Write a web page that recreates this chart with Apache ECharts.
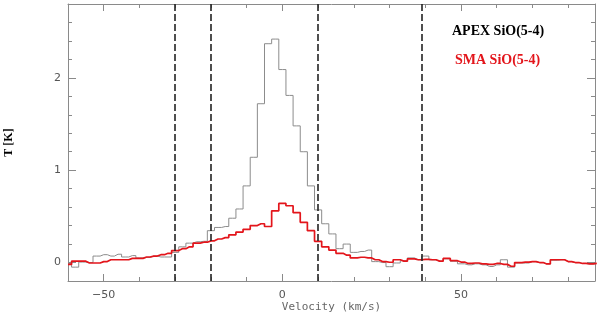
<!DOCTYPE html>
<html>
<head>
<meta charset="utf-8">
<script src="https://cdn.jsdelivr.net/npm/echarts@6/dist/echarts.min.js"></script>
<style>html,body{margin:0;padding:0;background:#fff}#c{width:600px;height:315px}</style>
</head>
<body>
<div id="c"></div>
<script>
var velocity = [-60,-58,-56,-54,-52,-50,-48,-46,-44,-42,-40,-38,-36,-34,-32,-30,-28,-26,-24,-22,-20,-18,-16,-14,-12,-10,-8,-6,-4,-2,
  0,2,4,6,8,10,12,14,16,18,20,22,24,26,28,30,32,34,36,38,40,42,44,46,48,50,52,54,56,58,60,62,64,66,68,70,72,74,76,78,80,82,84,86,88];
var apex = [-0.01,-0.05,0.005,0.0,0.07,0.085,0.07,0.09,0.06,0.075,0.05,0.055,0.07,0.06,0.06,0.11,0.17,0.21,0.225,0.23,0.345,0.38,0.39,0.48,0.58,0.83,1.14,1.72,2.37,2.42,
  2.09,1.81,1.48,1.20,0.83,0.57,0.42,0.31,0.15,0.20,0.11,0.12,0.135,0.01,0.0,-0.045,-0.005,0.02,0.05,0.03,0.07,0.03,0.014,0.04,0.014,-0.014,-0.025,-0.014,-0.025,-0.043,-0.025,0.03,-0.05,-0.005,-0.005,0.01,0.0,-0.015,0.025,0.03,0.01,0.0,-0.01,-0.015,-0.01];
var sma = [-0.02,0.015,0.015,-0.005,-0.005,0.01,0.03,0.03,0.03,0.045,0.045,0.06,0.07,0.085,0.10,0.13,0.15,0.17,0.21,0.22,0.235,0.255,0.27,0.30,0.33,0.36,0.40,0.42,0.39,0.56,
  0.64,0.615,0.54,0.435,0.345,0.23,0.17,0.135,0.10,0.08,0.05,0.057,0.05,0.03,0.01,0.003,0.03,0.015,0.04,0.03,0.035,0.03,0.015,0.045,0.02,0.005,-0.01,-0.005,-0.015,-0.02,-0.01,-0.02,-0.04,0.0,0.005,0.01,0.0,-0.015,0.03,0.03,0.01,0.0,-0.01,-0.015,-0.01];
var dashedVelocities = [-30, -20, 10, 39];
var xMajorTicks = [-50, 0, 50];
var yMajorTicks = [0, 1, 2];
var legendLabels = ['APEX SiO(5-4)', 'SMA SiO(5-4)'];
var xTitle = 'Velocity (km/s)';
var yTitle = 'T [K]';

var AX = '#8a8a8a';
function pairs(xs, ys){ return xs.map(function(x,i){ return [x, ys[i]]; }); }
function fmt(v){ return v < 0 ? '\u2212' + Math.abs(v) : String(v); }
var labelStyle = {color:'#555', fontFamily:'DejaVu Sans', fontSize:11};

var xBase = {type:'value', min:-60, max:87.5, splitLine:{show:false}};
var yBase = {type:'value', min:-0.2, max:2.8, splitLine:{show:false}};
function ext(a,b){ var o={}; for(var k in a)o[k]=a[k]; for(var k2 in b)o[k2]=b[k2]; return o; }

var chart = echarts.init(document.getElementById('c'), null, {renderer:'canvas'});
chart.setOption({
  animation:false,
  backgroundColor:'#fff',
  grid:{left:68, right:5, top:4, bottom:34, containLabel:false, outerBoundsMode:'none'},
  xAxis:[
    ext(xBase,{position:'bottom', interval:10, axisLine:{show:true,onZero:false,lineStyle:{color:AX,width:1}},
      axisTick:{inside:true,length:4,lineStyle:{color:AX}}, axisLabel:{show:false},
      name:xTitle, nameLocation:'middle', nameGap:21,
      nameTextStyle:{color:'#666', fontFamily:'DejaVu Sans Mono', fontSize:11}}),
    ext(xBase,{position:'top', interval:10, axisLine:{show:true,onZero:false,lineStyle:{color:AX,width:1}},
      axisTick:{inside:true,length:4,lineStyle:{color:AX}}, axisLabel:{show:false}}),
    ext(xBase,{position:'bottom', axisLine:{show:false,onZero:false},
      axisTick:{inside:true,length:7,customValues:xMajorTicks,lineStyle:{color:AX}},
      axisLabel:ext(labelStyle,{customValues:xMajorTicks, formatter:fmt, margin:9})}),
    ext(xBase,{position:'top', axisLine:{show:false,onZero:false},
      axisTick:{inside:true,length:7,customValues:xMajorTicks,lineStyle:{color:AX}}, axisLabel:{show:false}})
  ],
  yAxis:[
    ext(yBase,{position:'left', interval:0.2, axisLine:{show:true,onZero:false,lineStyle:{color:AX,width:1}},
      axisTick:{inside:true,length:4,lineStyle:{color:AX}}, axisLabel:{show:false},
      name:yTitle, nameLocation:'middle', nameGap:53, nameRotate:90,
      nameTextStyle:{color:'#000', fontFamily:'Liberation Serif', fontWeight:'bold', fontSize:12}}),
    ext(yBase,{position:'right', interval:0.2, axisLine:{show:true,onZero:false,lineStyle:{color:AX,width:1}},
      axisTick:{inside:true,length:4,lineStyle:{color:AX}}, axisLabel:{show:false}}),
    ext(yBase,{position:'left', axisLine:{show:false,onZero:false},
      axisTick:{inside:true,length:8,customValues:yMajorTicks,lineStyle:{color:AX}},
      axisLabel:ext(labelStyle,{customValues:yMajorTicks, formatter:fmt, margin:7})}),
    ext(yBase,{position:'right', axisLine:{show:false,onZero:false},
      axisTick:{inside:true,length:8,customValues:yMajorTicks,lineStyle:{color:AX}}, axisLabel:{show:false}})
  ],
  series:[
    {name:legendLabels[0], type:'line', step:'middle', xAxisIndex:0, yAxisIndex:0, showSymbol:false, symbol:'none',
     data:pairs(velocity, apex), lineStyle:{color:'#8c8c8c', width:1}, z:2},
    {name:legendLabels[1], type:'line', step:'middle', xAxisIndex:0, yAxisIndex:0, showSymbol:false, symbol:'none',
     data:pairs(velocity, sma), lineStyle:{color:'#e3151b', width:1.7}, z:3,
     markLine:{silent:true, symbol:['none','none'], label:{show:false},
       lineStyle:{type:[7,3], color:'#222', width:1.6},
       data:dashedVelocities.map(function(v){ return {xAxis:v}; })}}
  ],
  graphic:[
    {type:'text', left:452, top:24, style:{text:legendLabels[0], fill:'#000', font:'bold 14px "Liberation Serif"'}},
    {type:'text', left:455, top:53, style:{text:legendLabels[1], fill:'#e3151b', font:'bold 14px "Liberation Serif"'}}
  ]
});
</script>
</body>
</html>
